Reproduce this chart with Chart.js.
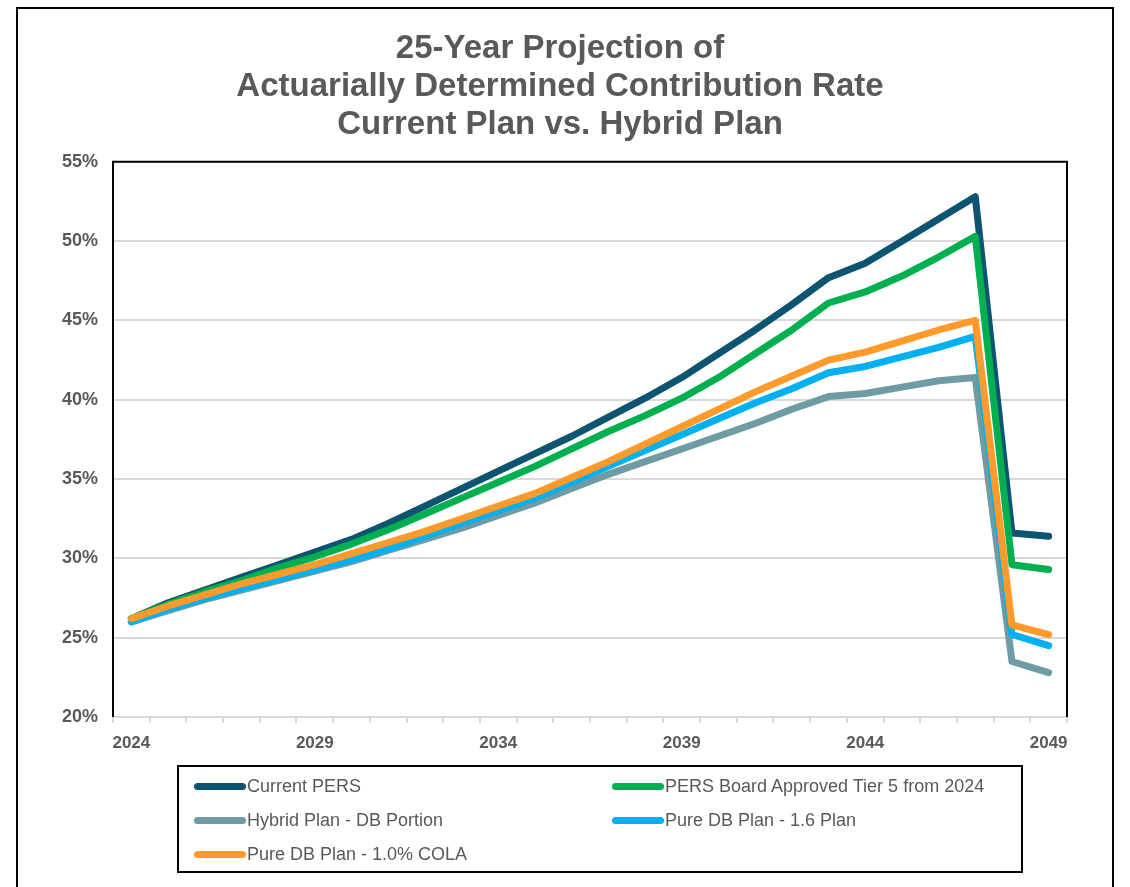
<!DOCTYPE html>
<html>
<head>
<meta charset="utf-8">
<title>25-Year Projection of Actuarially Determined Contribution Rate</title>
<script src="https://cdn.jsdelivr.net/npm/chart.js@4.4.1/dist/chart.umd.min.js"></script>
<style>
  html, body { margin: 0; padding: 0; background: #fff; }
  body { width: 1130px; height: 887px; position: relative; overflow: hidden;
         font-family: 'Liberation Sans', Arial, sans-serif; }
  .frame { position: absolute; left: 16px; top: 7px; width: 1098px; height: 900px;
           border: 2px solid #000; box-sizing: border-box; }
  #chart { position: absolute; left: 0; top: 0; }
  .legend { position: absolute; left: 177px; top: 765px; width: 846px; height: 108px;
            border: 2px solid #000; box-sizing: border-box; }
  .legend-item { position: absolute; height: 20px; display: flex; align-items: center;
                 font-size: 18px; color: #595959; white-space: nowrap; }
  .legend-line { width: 52px; height: 7px; border-radius: 4px; margin-right: 1px; }
</style>
</head>
<body>
<div class="frame"></div>
<canvas id="chart" width="1130" height="770"></canvas>
<div class="legend" id="legend"></div>

<script>
'use strict';

/* ── data ── */
const YEARS = [
  '2024','2025','2026','2027','2028','2029','2030','2031','2032','2033','2034','2035','2036',
  '2037','2038','2039','2040','2041','2042','2043','2044','2045','2046','2047','2048','2049'
];

const CURRENT_PERS = [
  26.2, 27.2, 28.0, 28.8, 29.6, 30.4, 31.2, 32.2, 33.3, 34.4, 35.5, 36.6, 37.7,
  38.9, 40.1, 41.4, 42.9, 44.4, 46.0, 47.7, 48.6, 50.0, 51.4, 52.8, 31.6, 31.4
];
const BOARD_TIER5 = [
  26.2, 27.1, 27.9, 28.6, 29.4, 30.1, 30.9, 31.8, 32.8, 33.8, 34.8, 35.8, 36.9,
  38.0, 39.0, 40.1, 41.4, 42.9, 44.4, 46.1, 46.8, 47.8, 49.0, 50.3, 29.6, 29.3
];
const HYBRID_DB = [
  26.0, 26.7, 27.4, 28.0, 28.6, 29.2, 29.8, 30.5, 31.2, 31.9, 32.7, 33.5, 34.4,
  35.3, 36.1, 36.9, 37.7, 38.5, 39.4, 40.2, 40.4, 40.8, 41.2, 41.4, 23.5, 22.8
];
const PURE_DB_16 = [
  26.0, 26.8, 27.5, 28.1, 28.7, 29.3, 29.9, 30.6, 31.4, 32.2, 33.0, 33.8, 34.8,
  35.8, 36.8, 37.8, 38.8, 39.8, 40.7, 41.7, 42.1, 42.7, 43.3, 44.0, 25.2, 24.5
];
const PURE_DB_COLA = [
  26.2, 27.0, 27.7, 28.4, 29.0, 29.6, 30.3, 31.0, 31.7, 32.5, 33.3, 34.1, 35.1,
  36.1, 37.2, 38.3, 39.4, 40.5, 41.5, 42.5, 43.0, 43.7, 44.4, 45.0, 25.8, 25.2
];

const SERIES_NAMES = [
  'Current PERS',
  'PERS Board Approved Tier 5 from 2024',
  'Hybrid Plan - DB Portion',
  'Pure DB Plan - 1.6 Plan',
  'Pure DB Plan - 1.0% COLA'
];
const SERIES_COLORS = ['#0d5470', '#00b050', '#6f9ba4', '#00b0f0', '#ff9a2b'];

const TITLE_LINES = [
  '25-Year Projection of',
  'Actuarially Determined Contribution Rate',
  'Current Plan vs. Hybrid Plan'
];

const Y_MIN = 20, Y_MAX = 55, Y_STEP = 5;

/* ── chart ── */
const TEXT_GREY = '#595959';
const GRID_GREY = '#d9d9d9';
const FONT = "'Liberation Sans', Arial, sans-serif";

// black frame on the left, top and right of the plot area
const plotFrame = {
  id: 'plotFrame',
  beforeDatasetsDraw(chart) {
    const { ctx, chartArea: a } = chart;
    ctx.save();
    ctx.strokeStyle = '#000';
    ctx.lineWidth = 2;
    ctx.beginPath();
    ctx.moveTo(a.left, a.bottom);
    ctx.lineTo(a.left, a.top);
    ctx.lineTo(a.right, a.top);
    ctx.lineTo(a.right, a.bottom);
    ctx.stroke();
    ctx.restore();
  }
};

const seriesData = [CURRENT_PERS, BOARD_TIER5, HYBRID_DB, PURE_DB_16, PURE_DB_COLA];

const datasets = seriesData.map((data, i) => ({
  label: SERIES_NAMES[i],
  data,
  borderColor: SERIES_COLORS[i],
  backgroundColor: SERIES_COLORS[i],
  borderWidth: 7,
  borderCapStyle: 'round',
  borderJoinStyle: 'round',
  pointRadius: 0,
  tension: 0,
  fill: false,
  order: seriesData.length - i   // later series drawn on top
}));

new Chart(document.getElementById('chart'), {
  type: 'line',
  data: { labels: YEARS, datasets },
  plugins: [plotFrame],
  options: {
    responsive: false,
    animation: false,
    layout: { padding: { left: 53, right: 63, top: 8, bottom: 5 } },
    plugins: {
      legend: { display: false },
      tooltip: { enabled: false },
      title: {
        display: true,
        text: TITLE_LINES,
        color: TEXT_GREY,
        font: { family: FONT, size: 33, weight: 'bold', lineHeight: 1.15 },
        padding: { top: 22, bottom: 18 }
      }
    },
    scales: {
      x: {
        offset: true,
        afterFit: s => { s.height = 48; },
        border: { display: true, color: GRID_GREY, width: 2 },
        grid: {
          offset: true,
          drawOnChartArea: false,
          drawTicks: true,
          tickLength: 6,
          color: GRID_GREY,
          lineWidth: 2
        },
        ticks: {
          autoSkip: false,
          maxRotation: 0,
          padding: 10,
          color: TEXT_GREY,
          font: { family: FONT, size: 17, weight: 'bold' },
          callback: (v, i) => (i % 5 === 0 ? YEARS[i] : '')
        }
      },
      y: {
        min: Y_MIN,
        max: Y_MAX,
        afterFit: s => { s.width = 60; },
        border: { display: false },
        grid: { color: GRID_GREY, lineWidth: 2, drawTicks: false },
        ticks: {
          stepSize: Y_STEP,
          padding: 15,
          color: TEXT_GREY,
          font: { family: FONT, size: 18, weight: 'bold' },
          callback: v => v + '%'
        }
      }
    }
  }
});

/* ── legend (two columns, built from the datasets) ── */
const legendEl = document.getElementById('legend');
datasets.forEach((ds, i) => {
  const item = document.createElement('div');
  item.className = 'legend-item';
  item.style.left = (i % 2 === 0 ? 15 : 433) + 'px';
  item.style.top = (9 + Math.floor(i / 2) * 34) + 'px';
  item.innerHTML = `<span class="legend-line" style="background:${ds.borderColor}"></span><span>${ds.label}</span>`;
  legendEl.appendChild(item);
});
</script>
</body>
</html>
